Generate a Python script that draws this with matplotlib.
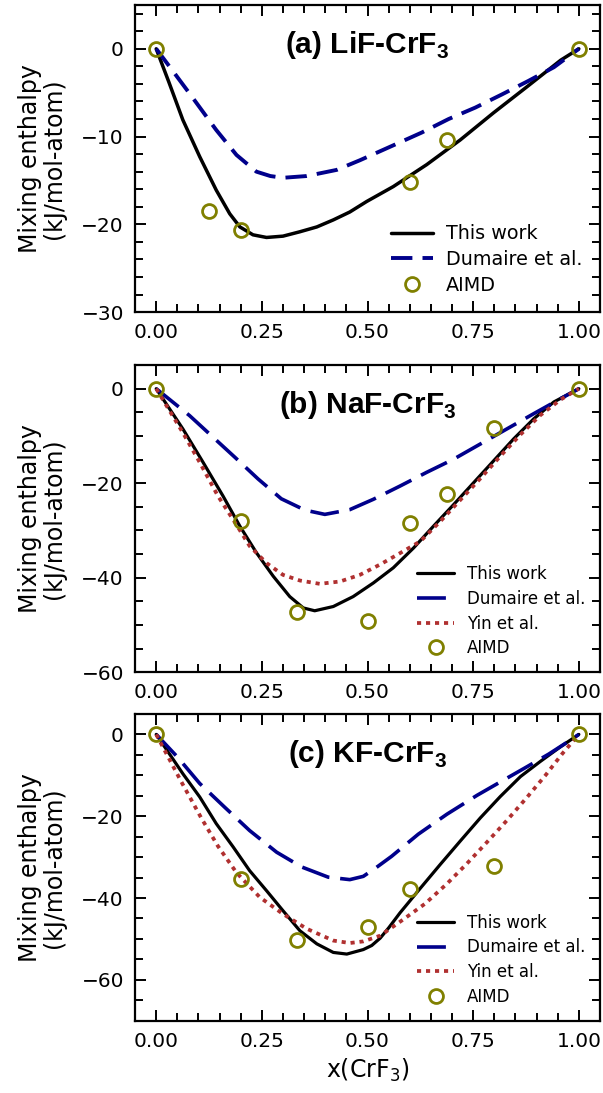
from matplotlib import pyplot as plt
from matplotlib.ticker import MultipleLocator


plt.rcParams['mathtext.fontset'] = 'custom'
plt.rcParams['mathtext.rm'] = 'DejaVu Sans'
plt.rcParams['mathtext.it'] = 'DejaVu Sans:italic'
plt.rcParams['mathtext.bf'] = 'Liberation Sans:bold'

NAVY = '#00008b'
BROWN = '#b03030'
OLIVE = '#808000'

# (a) LiF-CrF3
X_A_THIS = [0, 0.03, 0.063, 0.103, 0.142, 0.174, 0.198, 0.229, 0.261, 0.30, 0.34,
            0.38, 0.419, 0.458, 0.498, 0.561, 0.640, 0.719, 0.798, 0.878, 0.957, 1.0]
Y_A_THIS = [0, -3.8, -8.1, -12.3, -16.1, -18.8, -20.3, -21.2, -21.5, -21.35, -20.85,
            -20.3, -19.5, -18.6, -17.4, -15.7, -13.2, -10.4, -7.3, -4.3, -1.3, 0]
X_A_DUM = [0, 0.028, 0.079, 0.142, 0.19, 0.237, 0.27, 0.30, 0.356, 0.427, 0.482,
           0.561, 0.628, 0.692, 0.755, 0.818, 0.881, 0.941, 1.0]
Y_A_DUM = [0, -1.8, -5.1, -9.25, -12.1, -14.0, -14.5, -14.7, -14.5, -13.8, -12.7,
           -11.0, -9.55, -8.0, -6.7, -5.2, -3.65, -2.1, 0]
X_A_AIMD = [0, 0.125, 0.2, 0.6, 0.6875, 1.0]
Y_A_AIMD = [0, -18.5, -20.6, -15.2, -10.4, 0]

# (b) NaF-CrF3
X_B_THIS = [0, 0.063, 0.111, 0.158, 0.198, 0.237, 0.277, 0.316, 0.348, 0.375, 0.419,
            0.466, 0.514, 0.561, 0.609, 0.656, 0.704, 0.751, 0.798, 0.846, 0.893,
            0.941, 1.0]
Y_B_THIS = [0, -8.5, -15.6, -22.7, -29.1, -34.7, -39.7, -44.0, -46.4, -47.0, -46.1,
            -44.0, -41.1, -37.9, -33.7, -29.1, -24.5, -19.9, -15.3, -10.6, -6.4,
            -2.8, 0]
X_B_DUM = [0, 0.079, 0.130, 0.186, 0.241, 0.296, 0.352, 0.399, 0.458, 0.514,
           0.577, 0.640, 0.704, 0.767, 0.830, 0.893, 0.957, 1.0]
Y_B_DUM = [0, -5.7, -9.9, -14.5, -19.1, -23.3, -25.7, -26.6, -25.6, -23.4,
           -20.6, -17.7, -14.9, -11.7, -8.5, -5.3, -2.1, 0]
X_B_YIN = [0, 0.063, 0.103, 0.146, 0.192, 0.221, 0.261, 0.30, 0.34, 0.387, 0.435,
           0.482, 0.53, 0.577, 0.625, 0.672, 0.719, 0.767, 0.814, 0.862, 0.909,
           0.957, 1.0]
Y_B_YIN = [0, -9.3, -15.6, -22.7, -29.1, -33.3, -36.9, -39.4, -40.6, -41.3, -40.8,
           -39.4, -37.2, -34.8, -32.3, -28.1, -23.6, -19.0, -14.3, -9.7, -5.6,
           -2.3, 0]
X_B_AIMD = [0, 0.2, 0.333, 0.5, 0.6, 0.6875, 0.8, 1.0]
Y_B_AIMD = [0, -28.0, -47.3, -49.1, -28.5, -22.2, -8.3, 0]

# (c) KF-CrF3
X_C_THIS = [0, 0.063, 0.103, 0.142, 0.182, 0.221, 0.261, 0.30, 0.34, 0.38, 0.419,
            0.451, 0.49, 0.51, 0.53, 0.55, 0.577, 0.625, 0.672, 0.72, 0.767, 0.814,
            0.862, 0.909, 0.957, 1.0]
Y_C_THIS = [0, -9.6, -15.3, -21.8, -27.5, -33.3, -38.2, -43.1, -48.0, -51.2, -53.3,
            -53.7, -52.6, -51.6, -49.8, -47.3, -43.6, -37.6, -31.8, -26.0, -20.4,
            -15.2, -10.3, -6.6, -3.0, 0]
X_C_DUM = [0, 0.05, 0.103, 0.162, 0.221, 0.285, 0.344, 0.407, 0.458, 0.49, 0.52,
           0.557, 0.62, 0.688, 0.759, 0.818, 0.874, 0.929, 0.98, 1.0]
Y_C_DUM = [0, -5.5, -12.0, -17.8, -23.5, -28.8, -32.4, -34.9, -35.5, -34.7, -32.6,
           -29.8, -24.4, -19.5, -14.9, -11.4, -8.1, -4.8, -1.4, 0]
X_C_YIN = [0, 0.059, 0.107, 0.146, 0.19, 0.245, 0.30, 0.356, 0.419, 0.458, 0.49,
           0.53, 0.581, 0.636, 0.688, 0.735, 0.783, 0.83, 0.878, 0.921, 0.961, 1.0]
Y_C_YIN = [0, -11.5, -20.5, -27.3, -33.8, -39.8, -43.9, -47.5, -50.4, -51.0, -50.6,
           -49.2, -45.5, -41.4, -36.5, -31.6, -26.3, -21.0, -15.3, -10.0, -4.7, 0]
X_C_AIMD = [0, 0.2, 0.333, 0.5, 0.6, 0.8, 1.0]
Y_C_AIMD = [0, -35.3, -50.2, -47.1, -37.8, -32.2, 0]


def style_axis(ax, title, ylim, ymajor, yminor):
    'Sets limits, inward ticks on all sides and the panel title'
    ax.set_xlim(-0.05, 1.05)
    ax.set_ylim(*ylim)
    ax.xaxis.set_major_locator(MultipleLocator(0.25))
    ax.xaxis.set_minor_locator(MultipleLocator(0.05))
    ax.yaxis.set_major_locator(MultipleLocator(ymajor))
    ax.yaxis.set_minor_locator(MultipleLocator(yminor))
    ax.tick_params(which='both', direction='in', top=True, right=True,
                   width=1.4, labelsize=14.5, pad=8)
    ax.tick_params(which='major', length=8)
    ax.tick_params(which='minor', length=5.5)
    for spine in ax.spines.values():
        spine.set_linewidth(1.6)
    ax.set_ylabel('Mixing enthalpy\n(kJ/mol-atom)', fontsize=17,
                  linespacing=1.0, labelpad=11)
    ax.text(0.5, 0.845, title, transform=ax.transAxes, ha='center',
            va='baseline', fontsize=21.5, fontweight='bold',
            family='Liberation Sans')


fig = plt.figure(figsize=(6.03, 10.93), dpi=100)

ax_a = fig.add_axes([0.224, 0.7145, 0.771, 0.281])
ax_b = fig.add_axes([0.224, 0.385, 0.771, 0.281])
ax_c = fig.add_axes([0.224, 0.0661, 0.771, 0.2807])

line_kw = dict(solid_joinstyle='round', solid_capstyle='round')

# LiF-CrF3
ax_a.plot(X_A_THIS, Y_A_THIS, color='k', lw=2.5, label='This work', **line_kw)
ax_a.plot(X_A_DUM, Y_A_DUM, color=NAVY, lw=2.8, dashes=(5.5, 2.6),
          label='Dumaire et al.')
ax_a.plot(X_A_AIMD, Y_A_AIMD, ls='none', marker='o', ms=10, mfc='none',
          mec=OLIVE, mew=2, label='AIMD')
style_axis(ax_a, r'(a) LiF-CrF$_\mathbf{3}$', (-30, 5), 10, 2)
ax_a.legend(loc='lower right', frameon=False, fontsize=13.8,
            handlelength=2.2, handletextpad=0.7, labelspacing=0.35)

# NaF-CrF3 and KF-CrF3 carry the same four data sets
for ax, curves, aimd, title, ylim in (
        (ax_b, ((X_B_THIS, Y_B_THIS), (X_B_DUM, Y_B_DUM), (X_B_YIN, Y_B_YIN)),
         (X_B_AIMD, Y_B_AIMD), r'(b) NaF-CrF$_\mathbf{3}$', (-60, 5)),
        (ax_c, ((X_C_THIS, Y_C_THIS), (X_C_DUM, Y_C_DUM), (X_C_YIN, Y_C_YIN)),
         (X_C_AIMD, Y_C_AIMD), r'(c) KF-CrF$_\mathbf{3}$', (-70, 5))):
    this, dum, yin = curves
    ax.plot(*this, color='k', lw=2.3, label='This work', **line_kw)
    ax.plot(*dum, color=NAVY, lw=2.6, dashes=(8, 3), label='Dumaire et al.')
    ax.plot(*yin, color=BROWN, lw=2.7, dashes=(1.1, 1.3), label='Yin et al.')
    ax.plot(*aimd, ls='none', marker='o', ms=10, mfc='none',
            mec=OLIVE, mew=2, label='AIMD')
    style_axis(ax, title, ylim, 20, 5)
    ax.legend(loc='lower right', frameon=False, fontsize=12,
              handlelength=2.2, handletextpad=0.75, labelspacing=0.4)

ax_c.set_xlabel('x(CrF$_3$)', fontsize=17, labelpad=4)

fig.savefig('out.png', dpi=100)
